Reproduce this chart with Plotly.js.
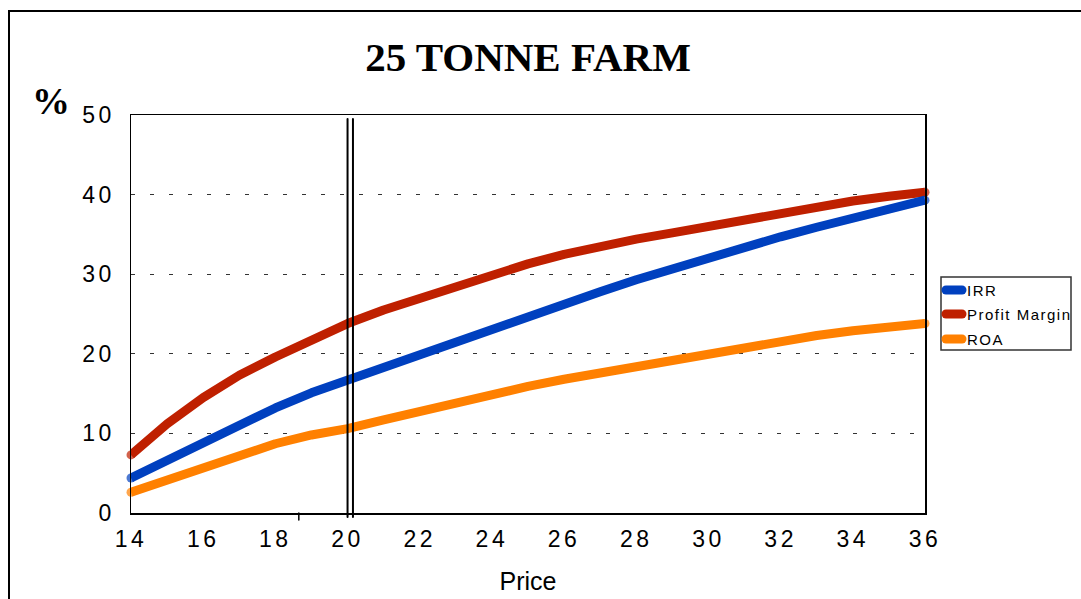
<!DOCTYPE html>
<html>
<head>
<meta charset="utf-8">
<script src="https://cdn.plot.ly/plotly-3.0.1.min.js"></script>
<style>
  html, body { margin: 0; padding: 0; background: #fff; }
  #frame { position: absolute; left: 8px; top: 10px; width: 1100px; height: 620px;
           border-left: 2px solid #000; border-top: 2px solid #000; pointer-events: none; }
  #chart { position: absolute; left: 0; top: 0; width: 1081px; height: 599px; }
  .xtick text, .ytick text { letter-spacing: 3.5px; }
  .shapelayer path { stroke-linecap: round; }
  .scatterlayer .js-line { stroke-linejoin: round; }
</style>
</head>
<body>
<div id="chart"></div>
<div id="frame"></div>
<script>
// Price per unit
const price = [14, 15, 16, 17, 18, 19, 20, 21, 22, 23, 24, 25, 26, 27, 28, 29, 30, 31, 32, 33, 34, 35, 36];

// Returns in %
const irr          = [4.4, 6.6, 8.9, 11.0, 13.2, 15.1, 16.7, 18.5, 20.0, 21.6, 23.2, 24.8, 26.3, 27.8, 29.3, 30.7, 32.0, 33.3, 34.7, 35.9, 37.1, 38.2, 39.3];
const profitMargin = [7.3, 11.2, 14.5, 17.3, 19.6, 21.8, 23.8, 25.5, 27.0, 28.5, 30.0, 31.3, 32.5, 33.5, 34.4, 35.2, 36.0, 36.9, 37.7, 38.5, 39.2, 39.8, 40.3];
const roa          = [2.6, 4.2, 5.8, 7.3, 8.7, 9.8, 10.6, 11.7, 12.8, 13.9, 14.9, 15.9, 16.8, 17.6, 18.4, 19.3, 20.1, 20.8, 21.6, 22.3, 22.9, 23.4, 23.8];

const seriesNames = ['IRR', 'Profit Margin', 'ROA'];
const seriesColors = ['#0040BF', '#BF2000', '#FF8000'];

// Break-even price marker (double rule) and the lone axis tick
const markerPrices = [20.0, 20.15];
const stubTickPrice = 18.65;

const SANS = 'Liberation Sans, Arial, sans-serif';
const SERIF = 'Liberation Serif, Times New Roman, serif';
const LW = 9;
// round caps at both ends of each line, drawn as end markers so they are not clipped
const capSizes = price.map((p, i) => (i === 0 || i === price.length - 1) ? LW : 0);
function series(y, i) {
  return {
    x: price, y: y, name: seriesNames[i], type: 'scatter', mode: 'lines+markers',
    line: { color: seriesColors[i], width: LW },
    marker: { color: seriesColors[i], size: capSizes, line: { width: 0 } },
    cliponaxis: false, hoverinfo: 'skip', showlegend: false
  };
}
// Profit margin sits underneath IRR where they meet
const data = [series(profitMargin, 1), series(irr, 0), series(roa, 2)];

// plot area in pixels: left 131, right 925, top 115, bottom 513
const L = 131, R = 925, T = 115, B = 513;
const px = v => (v - L) / (R - L);
const py = v => (B - v) / (B - T);

const shapes = [];
markerPrices.forEach(p => shapes.push({
  type: 'line', xref: 'x', yref: 'paper', x0: p, x1: p, y0: py(517), y1: py(119),
  line: { color: '#000', width: 2 }
}));
shapes.push({
  type: 'line', xref: 'x', yref: 'paper', x0: stubTickPrice, x1: stubTickPrice, y0: 0, y1: py(520),
  line: { color: '#000', width: 1.5 }
});

// legend box
shapes.push({
  type: 'rect', xref: 'paper', yref: 'paper', x0: px(941), x1: px(1071), y0: py(350), y1: py(277),
  line: { color: '#333', width: 1.5 }, fillcolor: '#fff'
});
const legendOrder = [0, 1, 2];
const legendRows = [290, 314, 339];
const annotations = [];
legendOrder.forEach((k, j) => {
  shapes.push({
    type: 'line', xref: 'paper', yref: 'paper', x0: px(946), x1: px(962),
    y0: py(legendRows[j]), y1: py(legendRows[j]),
    line: { color: seriesColors[k], width: LW }
  });
  annotations.push({
    xref: 'paper', yref: 'paper', x: px(965), y: py(legendRows[j]),
    xanchor: 'left', yanchor: 'middle', showarrow: false,
    text: '<span style="letter-spacing:1.5px">' + seriesNames[k] + '</span>',
    font: { family: SANS, size: 15, color: '#000' }
  });
});
annotations.push({
  xref: 'paper', yref: 'paper', x: px(51), y: py(101), xanchor: 'center', yanchor: 'middle',
  showarrow: false, text: '%',
  font: { family: SERIF, size: 38, color: '#000', weight: 'bold' }
});

const layout = {
  width: 1081, height: 599,
  margin: { l: L, r: 1081 - R, t: T, b: 599 - B, pad: 0 },
  paper_bgcolor: '#fff', plot_bgcolor: '#fff',
  title: {
    text: '25 TONNE FARM', xref: 'paper', x: 0.5, xanchor: 'center',
    yref: 'container', y: 1 - 57 / 599, yanchor: 'middle',
    font: { family: SERIF, size: 41, color: '#000', weight: 'bold' }
  },
  xaxis: {
    range: [14, 36], tickmode: 'array', tickvals: price.filter(v => v % 2 === 0),
    showgrid: false, zeroline: false, ticks: '',
    showline: true, linecolor: '#000', linewidth: 1.5, mirror: true,
    ticklabelstandoff: 5,
    tickfont: { family: SANS, size: 23, color: '#000' },
    title: { text: 'Price', standoff: 21,
      font: { family: SANS, size: 25, color: '#000' } }
  },
  yaxis: {
    range: [0, 50], dtick: 10, zeroline: false, ticks: '',
    showgrid: true, gridcolor: '#333', gridwidth: 1, griddash: '4px,15px',
    showline: true, linecolor: '#000', linewidth: 1.5, mirror: true,
    ticklabelstandoff: 10,
    tickfont: { family: SANS, size: 23, color: '#000' }
  },
  shapes: shapes,
  annotations: annotations,
  showlegend: false
};

Plotly.newPlot('chart', data, layout, { staticPlot: true, displayModeBar: false });
</script>
</body>
</html>
